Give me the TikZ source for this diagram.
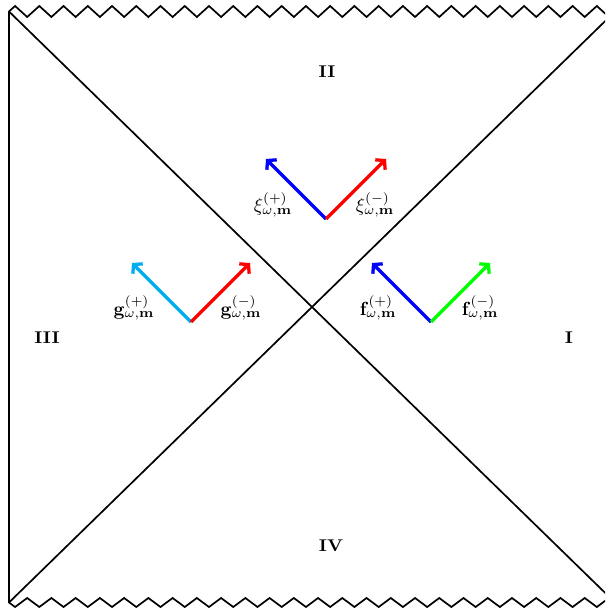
\documentclass[tikz,border=0pt]{standalone}
\usepackage{graphicx}
\usetikzlibrary{arrows.meta}
\definecolor{mycyan}{RGB}{0,174,239}
\definecolor{mygreen}{RGB}{0,255,0}
\newcommand{\lbl}[1]{\scalebox{1.9}{$#1$}}
\newcommand{\rlbl}[1]{\scalebox{1.85}[1.7]{\bfseries #1}}
\begin{document}
\begin{tikzpicture}[x=1pt,y=-1pt,
  bnd/.style={line width=1.7pt, line join=miter},
  vec/.style={line width=3.3pt, -{Straight Barb[length=6pt,width=14pt]}},
  reg/.style={inner sep=0pt},
  lab/.style={anchor=base, inner sep=0pt}]
\useasboundingbox (0,0) rectangle (605,609);
\clip (0,0) rectangle (605,609);
\coordinate (TL) at (9,11.5);
\coordinate (BL) at (9,602.5);
\coordinate (TR) at (615,11.5);
\coordinate (BR) at (615,602.5);
\draw[bnd] (BL) -- (TL);
\draw[bnd] (TL) -- (BR);
\draw[bnd] (BL) -- (TR);
\draw[bnd] (TL) \foreach \k in {0,...,25} { -- ++(6.06,-5.5) -- ++(12.12,11) -- ++(6.06,-5.5) };
\draw[bnd] (BL) \foreach \k in {0,...,25} { -- ++(6.06,4.5) -- ++(12.12,-9) -- ++(6.06,4.5) };
% region labels
\node[reg] (r2) at (327,72) {\rlbl{II}};
\node[reg] (r3) at (47,338) {\rlbl{III}};
\node[reg] (r1) at (569,338) {\rlbl{I}};
\node[reg] (r4) at (331,546) {\rlbl{IV}};
% xi pair
\coordinate (xb) at (326,219);
\coordinate (xp) at (266,159);
\coordinate (xm) at (386,159);
\draw[vec,blue] (xb) -- (xp);
\draw[vec,red] (xb) -- (xm);
\node[lab] (xl1) at (273,212) {\lbl{\xi^{(+)}_{\omega,\mathbf{m}}}};
\node[lab] (xl2) at (375,212) {\lbl{\xi^{(-)}_{\omega,\mathbf{m}}}};
% g pair
\coordinate (gb) at (191,322);
\coordinate (gp) at (132,263);
\coordinate (gm) at (250,263);
\draw[vec,mycyan] (gb) -- (gp);
\draw[vec,red] (gb) -- (gm);
\node[lab] (gl1) at (134,315) {\lbl{\mathbf{g}^{(+)}_{\omega,\mathbf{m}}}};
\node[lab] (gl2) at (241,315) {\lbl{\mathbf{g}^{(-)}_{\omega,\mathbf{m}}}};
% f pair
\coordinate (fb) at (431,322);
\coordinate (fp) at (372,263);
\coordinate (fm) at (490,263);
\draw[vec,blue] (fb) -- (fp);
\draw[vec,mygreen] (fb) -- (fm);
\node[lab] (fl1) at (378,315) {\lbl{\mathbf{f}^{(+)}_{\omega,\mathbf{m}}}};
\node[lab] (fl2) at (480,315) {\lbl{\mathbf{f}^{(-)}_{\omega,\mathbf{m}}}};
\end{tikzpicture}
\end{document}
